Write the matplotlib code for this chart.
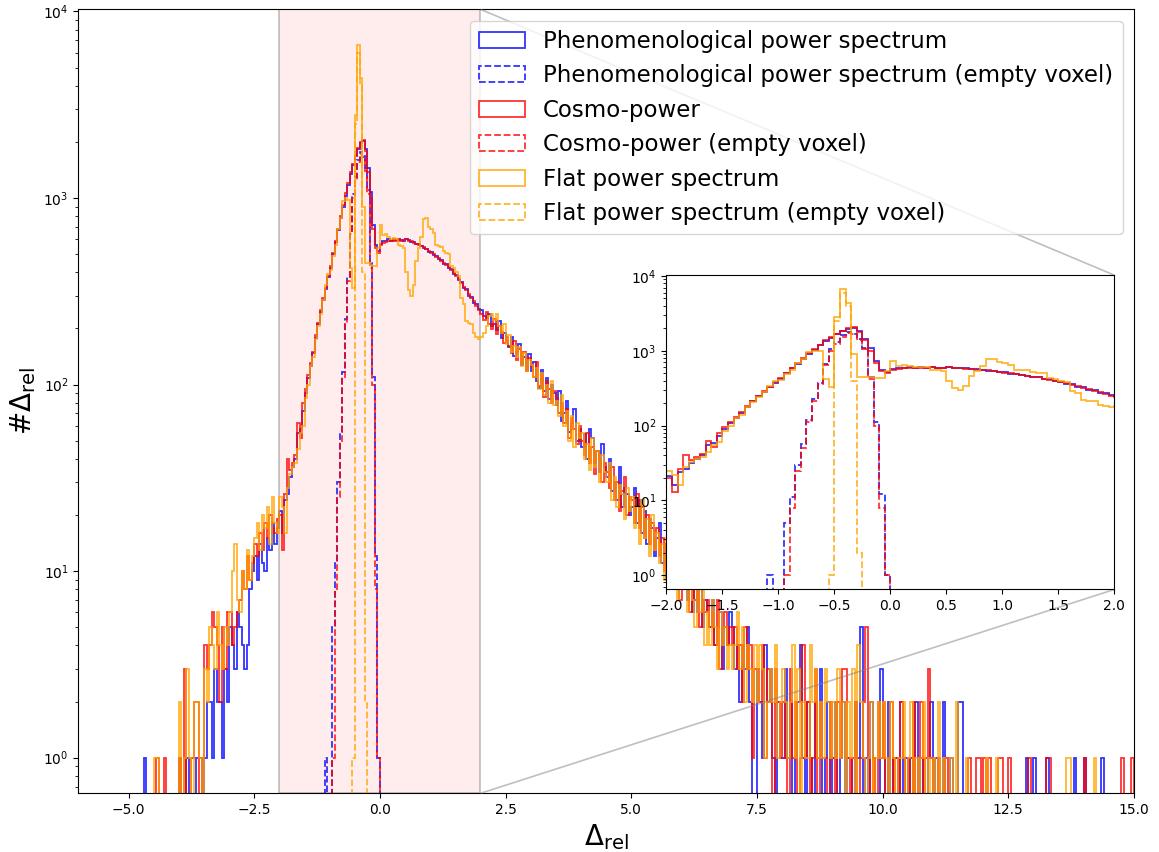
import numpy as np
import matplotlib
matplotlib.use("Agg")
import matplotlib.pyplot as plt
from mpl_toolkits.axes_grid1.inset_locator import mark_inset

# histogram binning shared by every series
bin_width = 0.05
full_start = -5.0      # left edge of the full-range histograms
empty_start = -1.10    # left edge of the empty-voxel histograms

# counts per bin, one row = 10 bins = 0.5 in Delta_rel
counts_pheno = [
    0, 0, 0, 0, 0, 0, 1, 0, 0, 0,
    0, 0, 0, 0, 0, 0, 0, 0, 0, 0,
    1, 0, 0, 1, 0, 0, 0, 1, 1, 0,
    1, 2, 2, 1, 3, 2, 2, 1, 3, 2,
    5, 4, 3, 6, 5, 4, 3, 4, 8, 10,
    12, 9, 14, 11, 10, 15, 13, 18, 14, 17,
    21, 16, 24, 26, 32, 36, 40, 55, 58, 72,
    90, 108, 125, 148, 178, 210, 245, 285, 325, 375,
    420, 500, 580, 670, 780, 900, 1030, 1180, 1350, 1500,
    1680, 1830, 1960, 2010, 1820, 1450, 1080, 720, 560, 520,
    570, 590, 585, 600, 590, 600, 595, 605, 595, 590,
    605, 595, 580, 580, 565, 565, 555, 540, 535, 515,
    515, 495, 490, 470, 465, 445, 445, 420, 415, 390,
    385, 365, 355, 330, 325, 300, 295, 275, 270, 255,
    250, 232, 226, 240, 205, 212, 196, 220, 178, 188,
    172, 158, 180, 142, 150, 165, 128, 140, 120, 146,
    118, 132, 104, 96, 120, 92, 108, 84, 100, 90,
    78, 92, 64, 70, 82, 56, 62, 74, 50, 58,
    46, 54, 40, 58, 52, 38, 44, 34, 48, 36,
    32, 40, 27, 30, 24, 36, 22, 28, 26, 20,
    22, 28, 18, 24, 16, 21, 14, 19, 17, 12,
    15, 18, 11, 14, 9, 16, 10, 12, 8, 11,
    9, 10, 7, 8, 6, 9, 6, 8, 5, 7,
    6, 5, 7, 4, 5, 6, 3, 5, 4, 6,
    5, 3, 4, 2, 4, 3, 5, 2, 0, 0,
    3, 2, 1, 4, 2, 3, 1, 0, 2, 1,
    1, 3, 1, 2, 0, 1, 2, 4, 1, 0,
    2, 1, 0, 2, 1, 3, 0, 1, 2, 0,
    1, 2, 0, 1, 2, 0, 1, 1, 0, 2,
    1, 5, 0, 1, 0, 2, 1, 0, 0, 3,
    1, 0, 2, 0, 1, 1, 0, 2, 0, 1,
    0, 1, 0, 2, 0, 1, 0, 0, 1, 2,
    0, 1, 0, 0, 2, 0, 0, 1, 0, 0,
    2, 2, 0, 0, 0, 0, 0, 0, 0, 0,
    0, 0, 0, 0, 0, 0, 0, 0, 0, 0,
    0, 0, 0, 0, 0, 0, 0, 1, 0, 0,
    1, 0, 0, 0, 0, 1, 0, 0, 0, 0,
    0, 0, 0, 0, 0, 0, 1, 0, 0, 0,
    1, 0, 0, 0, 0, 0, 0, 1, 0, 0,
    0, 0, 0, 0, 0, 0, 0, 0, 0, 0,
]

counts_cosmo = [
    0, 0, 0, 0, 0, 0, 0, 0, 0, 0,
    0, 1, 0, 0, 1, 0, 0, 0, 0, 0,
    1, 0, 3, 0, 0, 1, 2, 2, 0, 1,
    4, 3, 4, 6, 5, 4, 2, 5, 3, 6,
    6, 4, 5, 6, 7, 10, 8, 12, 9, 11,
    14, 12, 16, 13, 18, 15, 20, 17, 16, 19,
    20, 13, 26, 40, 35, 38, 42, 62, 52, 80,
    95, 112, 130, 150, 185, 215, 250, 290, 330, 380,
    430, 510, 590, 680, 800, 920, 1060, 1200, 1380, 1520,
    1700, 1850, 2000, 2050, 1780, 1380, 1000, 680, 540, 510,
    560, 575, 580, 590, 585, 595, 590, 600, 590, 595,
    600, 590, 585, 575, 570, 560, 550, 545, 530, 520,
    510, 500, 485, 475, 460, 450, 440, 425, 410, 395,
    380, 370, 350, 335, 320, 305, 290, 280, 265, 250,
    238, 222, 244, 210, 198, 225, 186, 205, 192, 168,
    180, 160, 148, 172, 136, 155, 130, 150, 118, 138,
    126, 110, 132, 98, 112, 86, 104, 95, 80, 92,
    85, 70, 80, 62, 74, 52, 66, 58, 48, 60,
    50, 42, 55, 38, 46, 33, 44, 40, 30, 38,
    34, 28, 36, 24, 30, 21, 27, 32, 20, 25,
    24, 18, 26, 17, 22, 15, 20, 14, 18, 13,
    17, 12, 15, 10, 14, 8, 13, 11, 9, 7,
    10, 8, 9, 6, 8, 7, 9, 5, 7, 6,
    7, 5, 6, 4, 7, 3, 5, 6, 4, 5,
    4, 5, 3, 4, 2, 5, 3, 4, 1, 3,
    3, 2, 4, 1, 3, 2, 0, 3, 2, 1,
    2, 1, 0, 3, 1, 2, 0, 1, 4, 1,
    2, 0, 1, 3, 0, 2, 1, 1, 0, 2,
    1, 0, 2, 1, 3, 3, 1, 0, 1, 2,
    0, 1, 2, 5, 1, 0, 1, 0, 2, 1,
    2, 0, 1, 2, 0, 1, 0, 2, 1, 0,
    1, 0, 2, 0, 1, 2, 0, 1, 3, 1,
    0, 0, 1, 0, 0, 1, 0, 0, 0, 0,
    0, 0, 0, 0, 1, 0, 0, 1, 1, 0,
    1, 0, 1, 0, 0, 0, 1, 1, 0, 0,
    1, 0, 0, 0, 0, 0, 0, 0, 1, 0,
    0, 0, 0, 0, 0, 1, 1, 0, 0, 0,
    0, 0, 0, 0, 0, 0, 0, 0, 0, 0,
    1, 0, 0, 0, 0, 0, 0, 0, 0, 0,
    0, 0, 0, 0, 0, 1, 0, 0, 0, 1,
]

counts_flat = [
    0, 0, 0, 0, 0, 0, 0, 0, 0, 0,
    1, 1, 0, 0, 0, 0, 0, 0, 0, 0,
    2, 0, 1, 3, 1, 0, 2, 2, 1, 0,
    3, 2, 5, 4, 3, 6, 4, 3, 5, 4,
    6, 10, 14, 7, 6, 10, 8, 13, 9, 12,
    15, 18, 13, 20, 17, 22, 14, 25, 18, 16,
    25, 22, 16, 28, 33, 36, 38, 45, 55, 60,
    85, 100, 125, 140, 175, 205, 240, 285, 340, 390,
    410, 490, 560, 680, 780, 960, 1000, 980, 420, 330,
    2800, 6600, 4400, 900, 450, 450, 440, 430, 430, 540,
    720, 630, 640, 620, 600, 610, 600, 560, 550, 540,
    400, 320, 300, 340, 460, 540, 620, 770, 780, 700,
    680, 650, 560, 550, 545, 520, 510, 500, 430, 420,
    400, 380, 290, 270, 220, 215, 210, 190, 180, 175,
    180, 190, 205, 232, 240, 222, 238, 205, 190, 210,
    165, 185, 150, 160, 140, 158, 125, 148, 118, 135,
    128, 110, 122, 95, 115, 88, 100, 80, 105, 78,
    82, 68, 88, 60, 72, 50, 68, 46, 62, 52,
    55, 40, 48, 35, 52, 36, 44, 30, 42, 34,
    30, 38, 24, 32, 22, 29, 26, 19, 28, 21,
    25, 17, 22, 14, 24, 15, 19, 12, 20, 13,
    16, 11, 14, 9, 15, 8, 12, 10, 7, 11,
    8, 9, 6, 10, 7, 5, 8, 6, 9, 4,
    6, 4, 7, 5, 3, 6, 4, 5, 3, 4,
    3, 4, 6, 3, 5, 2, 4, 3, 2, 4,
    2, 4, 3, 1, 2, 3, 2, 4, 1, 2,
    3, 2, 1, 2, 4, 1, 3, 0, 2, 1,
    1, 4, 2, 3, 1, 2, 1, 3, 2, 1,
    2, 1, 3, 1, 2, 0, 2, 1, 3, 0,
    4, 2, 1, 0, 1, 2, 0, 1, 2, 1,
    2, 1, 0, 2, 1, 0, 1, 1, 2, 0,
    1, 2, 0, 1, 0, 1, 2, 0, 1, 0,
    1, 0, 2, 0, 1, 0, 0, 1, 0, 2,
    0, 0, 0, 1, 0, 0, 0, 0, 0, 0,
    0, 1, 0, 0, 0, 1, 0, 0, 0, 0,
    0, 0, 0, 0, 0, 0, 0, 0, 0, 0,
    0, 0, 0, 0, 0, 0, 0, 0, 0, 0,
    0, 0, 0, 1, 1, 0, 0, 0, 0, 0,
    0, 0, 0, 0, 1, 0, 0, 0, 0, 0,
    0, 0, 0, 0, 0, 0, 0, 0, 0, 0,
]

# empty-voxel runs, bins from -1.10 to 0.00
counts_pheno_empty = [1, 0, 0, 5, 11, 30, 56, 117, 225, 375, 660,
                      1050, 1300, 1600, 1770, 1680, 1440, 1100, 450, 110, 12, 1]
counts_cosmo_empty = [0, 0, 0, 1, 8, 25, 50, 110, 210, 360, 640,
                      1000, 1250, 1550, 1720, 1650, 1400, 1050, 420, 100, 8, 1]
counts_flat_empty = [0, 0, 0, 0, 0, 0, 0, 0, 0, 0, 0,
                     1, 2500, 6000, 4000, 400, 2, 0, 0, 0, 0, 0]

series = [
    (counts_pheno, full_start, "blue", "-", "Phenomenological power spectrum"),
    (counts_pheno_empty, empty_start, "blue", "--", "Phenomenological power spectrum (empty voxel)"),
    (counts_cosmo, full_start, "red", "-", "Cosmo-power"),
    (counts_cosmo_empty, empty_start, "red", "--", "Cosmo-power (empty voxel)"),
    (counts_flat, full_start, "orange", "-", "Flat power spectrum"),
    (counts_flat_empty, empty_start, "orange", "--", "Flat power spectrum (empty voxel)"),
]

ylims = (10 ** -0.191, 10 ** 4.011)


def draw_hists(ax):
    for counts, start, color, ls, label in series:
        edges = start + bin_width * np.arange(len(counts) + 1)
        centers = edges[:-1] + bin_width / 2
        ax.hist(centers, bins=edges, weights=counts, histtype="step", log=True,
                color=color, linestyle=ls, lw=1.3, alpha=0.8, label=label)


fig = plt.figure(figsize=(11.59, 8.52), dpi=100)
ax = fig.add_axes([0.0676, 0.0689, 0.9108, 0.9201])
draw_hists(ax)
ax.set_xlim(-6, 15)
ax.set_ylim(*ylims)
ax.set_xlabel(r"$\Delta_{\mathrm{rel}}$", fontsize=20)
ax.set_ylabel(r"$\#\Delta_{\mathrm{rel}}$", fontsize=20)

# zoom on the central region
axins = ax.inset_axes([0.557, 0.26, 0.4244, 0.401])
draw_hists(axins)
axins.set_xlim(-2, 2)
axins.set_ylim(*ylims)
mark_inset(ax, axins, loc1=1, loc2=4, fc=(1, 0, 0, 0.07),
           ec=(0.5, 0.5, 0.5, 0.5), lw=1.2)

ax.legend(loc="upper right", fontsize=16.5)

fig.savefig("out.png", dpi=100)
